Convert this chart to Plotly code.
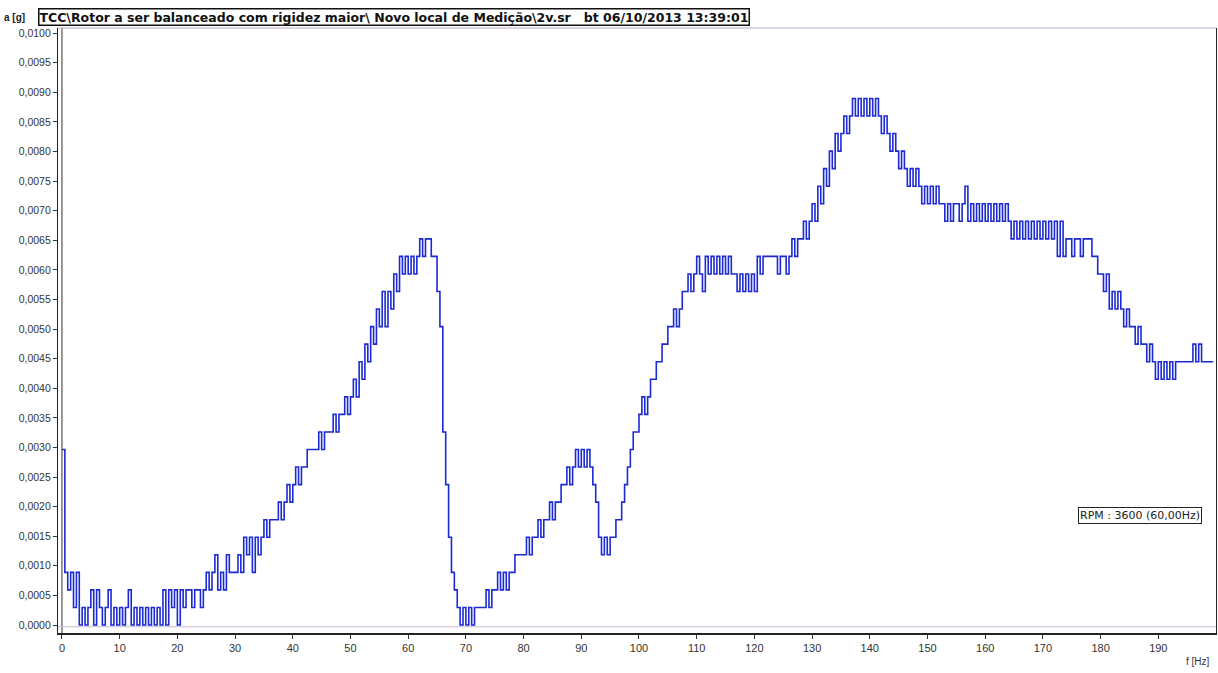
import numpy as np
import plotly.graph_objects as go

# Run-up spectrum of the rotor: acceleration in ADC counts, one sample every 0.5 Hz
LSB_G = 0.0002965      # one ADC count expressed in g
FREQ_STEP_HZ = 0.5

counts_000_010 = [10, 3, 2, 3, 1, 3, 0, 1, 0, 1, 2, 0, 2, 1, 0, 1, 2, 0, 1, 0]
counts_010_020 = [1, 0, 1, 2, 0, 1, 0, 1, 0, 1, 0, 1, 0, 1, 0, 2, 0, 2, 1, 2]
counts_020_030 = [0, 2, 1, 2, 2, 1, 2, 2, 1, 2, 3, 2, 3, 4, 2, 3, 2, 4, 3, 3]
counts_030_040 = [3, 4, 3, 5, 4, 5, 3, 5, 4, 5, 6, 5, 6, 6, 6, 7, 6, 7, 8, 7]
counts_040_050 = [8, 9, 8, 9, 9, 10, 10, 10, 10, 11, 10, 11, 11, 11, 12, 11, 12, 12, 13, 12]
counts_050_060 = [13, 14, 13, 15, 14, 16, 15, 17, 16, 18, 17, 19, 17, 19, 18, 20, 19, 21, 20, 21]
counts_060_070 = [20, 21, 20, 21, 22, 21, 22, 22, 21, 21, 19, 17, 11, 8, 5, 3, 2, 1, 0, 1]
counts_070_080 = [0, 1, 0, 1, 1, 1, 1, 2, 1, 2, 2, 3, 2, 3, 2, 3, 3, 4, 4, 4]
counts_080_090 = [4, 5, 4, 5, 5, 6, 5, 6, 6, 7, 6, 7, 7, 8, 8, 9, 8, 9, 10, 9]
counts_090_100 = [10, 9, 10, 9, 8, 7, 5, 4, 5, 4, 5, 5, 6, 6, 7, 8, 9, 10, 11, 11]
counts_100_110 = [12, 13, 12, 13, 14, 14, 15, 15, 16, 16, 17, 17, 18, 17, 18, 19, 19, 20, 19, 20]
counts_110_120 = [21, 20, 19, 21, 20, 21, 20, 21, 20, 21, 20, 21, 20, 20, 19, 20, 19, 20, 19, 20]
counts_120_130 = [19, 21, 20, 21, 21, 21, 21, 21, 20, 21, 21, 20, 21, 22, 21, 22, 22, 23, 22, 23]
counts_130_140 = [24, 23, 25, 24, 26, 25, 27, 26, 28, 27, 28, 29, 28, 29, 30, 29, 30, 29, 30, 29]
counts_140_150 = [30, 29, 30, 29, 28, 29, 28, 27, 28, 27, 26, 27, 26, 25, 26, 25, 26, 25, 24, 25]
counts_150_160 = [24, 25, 24, 25, 24, 24, 23, 24, 23, 24, 24, 23, 24, 25, 23, 24, 23, 24, 23, 24]
counts_160_170 = [23, 24, 23, 24, 23, 24, 23, 24, 23, 22, 23, 22, 23, 22, 23, 22, 23, 22, 23, 22]
counts_170_180 = [23, 22, 23, 22, 23, 21, 23, 21, 22, 22, 21, 22, 22, 21, 22, 22, 22, 21, 21, 20]
counts_180_190 = [20, 19, 20, 18, 19, 18, 19, 18, 17, 18, 17, 17, 16, 17, 16, 16, 15, 16, 15, 14]
counts_190_200 = [15, 14, 15, 14, 15, 14, 15, 15, 15, 15, 15, 15, 16, 15, 16, 15, 15, 15, 15, 15]

counts = (counts_000_010 + counts_010_020 + counts_020_030 + counts_030_040 +
          counts_040_050 + counts_050_060 + counts_060_070 + counts_070_080 +
          counts_080_090 + counts_090_100 + counts_100_110 + counts_110_120 +
          counts_120_130 + counts_130_140 + counts_140_150 + counts_150_160 +
          counts_160_170 + counts_170_180 + counts_180_190 + counts_190_200)

freq_hz = np.arange(len(counts)) * FREQ_STEP_HZ
accel_g = np.array(counts) * LSB_G

y_ticks = [round(0.0005 * i, 4) for i in range(21)]
x_ticks = list(range(0, 200, 10))

title_text = ("TCC\\Rotor a ser balanceado com rigidez maior\\ Novo local de Medição\\2v.sr"
              "\u00a0\u00a0\u00a0bt 06/10/2013 13:39:01")
rpm_text = "RPM : 3600 (60,00Hz)"

FONT = "Liberation Sans, Arial, sans-serif"
WIDE_FONT = "DejaVu Sans, Verdana, sans-serif"
LINE_BLUE = "#1c2ad2"

fig = go.Figure()
fig.add_trace(go.Scatter(
    x=freq_hz, y=accel_g, mode="lines",
    line=dict(color=LINE_BLUE, width=1.6, shape="hv"),
    hoverinfo="x+y", showlegend=False,
))

W, H = 1218, 673
L, R, T, B = 58, 2, 28, 40
plot_w = W - L - R
plot_h = H - T - B


def px_x(px):
    return (px - L) / plot_w


def px_y(py):
    return (H - B - py) / plot_h


fig.update_layout(
    width=W, height=H,
    margin=dict(l=L, r=R, t=T, b=B, pad=0),
    paper_bgcolor="white", plot_bgcolor="white",
    separators=", ",
    font=dict(family=FONT, size=11, color="#333333"),
    xaxis=dict(
        range=[-0.69, 200], tickvals=x_ticks, tickformat="d",
        showgrid=False, zeroline=False,
        showline=True, linecolor="#222222", linewidth=2, mirror=False,
        ticks="outside", ticklen=4, tickcolor="#333333", tickwidth=1,
        tickfont=dict(size=11, color="#333333"),
    ),
    yaxis=dict(
        range=[-0.000135, 0.010085], tickvals=y_ticks, tickformat=".4f",
        showgrid=False, zeroline=False,
        showline=True, linecolor="#222222", linewidth=1.2, mirror=True,
        ticks="outside", ticklen=4, tickcolor="#333333", tickwidth=1,
        tickfont=dict(size=10.5, color="#333333"),
    ),
    shapes=[
        # second vertical rule at 0 Hz
        dict(type="line", xref="x", yref="paper", x0=0, x1=0, y0=0, y1=1,
             line=dict(color="#333333", width=1)),
        # thin frame along the top and just above the frequency bar
        dict(type="line", xref="paper", yref="paper", x0=0, x1=1, y0=1, y1=1,
             line=dict(color="#b9a6c8", width=1)),
        dict(type="line", xref="paper", yref="y", x0=0, x1=1,
             y0=-0.00003, y1=-0.00003,
             line=dict(color="#c9b8d6", width=1)),
    ],
    annotations=[
        dict(text="<b>a [g]</b>", xref="paper", yref="paper",
             x=px_x(2), y=px_y(17), xanchor="left", yanchor="middle",
             showarrow=False, font=dict(size=10, color="#222222")),
        dict(text="<b>" + title_text + "</b>", xref="paper", yref="paper",
             x=px_x(38), y=px_y(17), xanchor="left", yanchor="middle",
             showarrow=False,
             font=dict(family=WIDE_FONT, size=12.5, color="#111111"),
             bordercolor="#111111", borderwidth=1.5, borderpad=0,
             bgcolor="white"),
        dict(text=rpm_text, xref="paper", yref="paper",
             x=px_x(1140), y=px_y(515), xanchor="center", yanchor="middle",
             showarrow=False,
             font=dict(family=WIDE_FONT, size=11, color="#222222"),
             bordercolor="#222222", borderwidth=1, borderpad=1,
             bgcolor="white"),
        dict(text="f [Hz]", xref="paper", yref="paper",
             x=px_x(1212), y=px_y(661), xanchor="right", yanchor="middle",
             showarrow=False, font=dict(size=10, color="#333333")),
    ],
)

fig.write_html("out.html")
